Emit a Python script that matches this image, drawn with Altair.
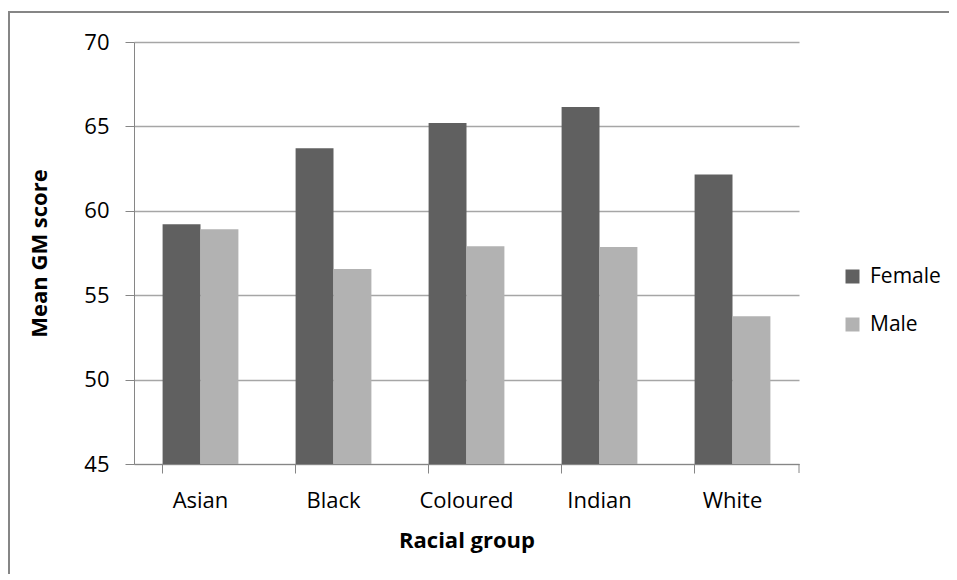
import altair as alt
import pandas as pd

groups = ["Asian", "Black", "Coloured", "Indian", "White"]
female = [59.2, 63.7, 65.2, 66.15, 62.15]
male = [58.9, 56.55, 57.9, 57.85, 53.75]
series = ["Female", "Male"]
colors = ["#606060", "#b2b2b2"]
y_ticks = [45, 50, 55, 60, 65, 70]

rows = []
for g, f, m in zip(groups, female, male):
    rows.append({"group": g, "sex": "Female", "score": f})
    rows.append({"group": g, "sex": "Male", "score": m})
df = pd.DataFrame(rows)

FONT = "Open Sans"
W, H = 665, 422
AX = "#868686"

bars = alt.Chart(df).mark_bar().encode(
    x=alt.X("group:N", sort=groups,
            scale=alt.Scale(paddingInner=0.43, paddingOuter=0.215),
            axis=alt.Axis(title="Racial group", labelAngle=0, bandPosition=0,
                          tickSize=9, tickColor=AX, domainColor=AX,
                          labelPadding=17, titlePadding=19)),
    xOffset=alt.XOffset("sex:N", sort=series, scale=alt.Scale(paddingInner=0, paddingOuter=0)),
    y=alt.Y("score:Q", scale=alt.Scale(domain=[45, 70], nice=False, zero=False),
            axis=alt.Axis(title="Mean GM score", values=y_ticks, tickSize=9,
                          tickColor=AX, domainColor=AX,
                          gridColor="#a6a6a6", gridWidth=1.3,
                          labelPadding=16, titlePadding=32)),
    y2=alt.datum(45),
    color=alt.Color("sex:N", sort=series,
                    scale=alt.Scale(domain=series, range=colors),
                    legend=alt.Legend(title=None, orient="none", legendX=708, legendY=224,
                                      symbolType="square", symbolSize=196,
                                      symbolStrokeWidth=0, labelFontSize=21,
                                      rowPadding=26, labelOffset=7)),
)

end_tick = alt.Chart(alt.Data(values=[{}])).mark_rule(color=AX).encode(
    x=alt.value(W), y=alt.value(H), y2=alt.value(H + 9)
)

frame_top = alt.Chart(alt.Data(values=[{}])).mark_rule(color=AX, strokeWidth=2).encode(
    x=alt.value(-126), x2=alt.value(W + 300), y=alt.value(-30)
)
frame_left = alt.Chart(alt.Data(values=[{}])).mark_rule(color=AX, strokeWidth=2).encode(
    x=alt.value(-125), y=alt.value(-31), y2=alt.value(H + 200)
)

chart = alt.layer(frame_top, frame_left, bars, end_tick).properties(
    width=W, height=H,
    autosize=alt.AutoSizeParams(type="none"),
    padding={"left": 126, "top": 34, "right": 150, "bottom": 110},
).configure_view(stroke=None).configure_axis(
    labelFont=FONT, titleFont=FONT, labelFontSize=22, titleFontSize=22,
    labelColor="#000000", titleColor="#000000", titleFontWeight="bold",
).configure_legend(labelFont=FONT, labelColor="#000000")

chart.save("out.html", embed_options={"renderer": "svg", "actions": False})
